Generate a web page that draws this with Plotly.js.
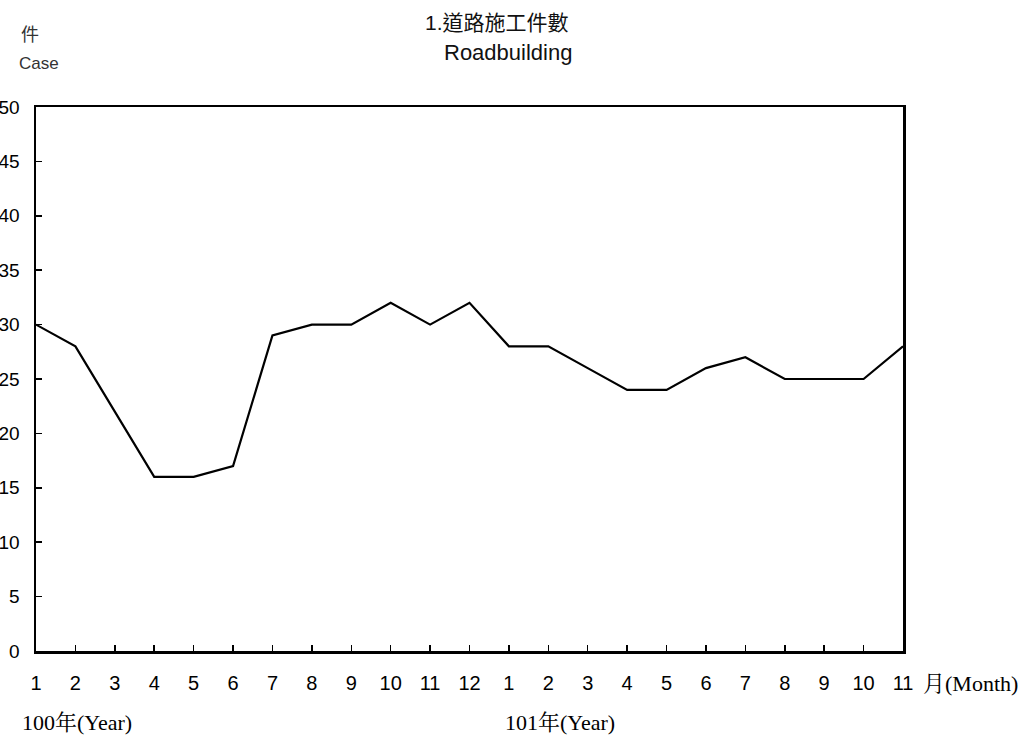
<!DOCTYPE html>
<html><head><meta charset="utf-8">
<script src="https://cdn.plot.ly/plotly-3.0.1.min.js"></script>
<style>body{margin:0;background:#fff}#c{width:1025px;height:740px}</style>
</head><body><div id="c"></div>
<script>
const months = ["1","2","3","4","5","6","7","8","9","10","11","12","1","2","3","4","5","6","7","8","9","10","11"];
const cases = [30,28,22,16,16,17,29,30,30,32,30,32,28,28,26,24,24,26,27,25,25,25,28];
const yTicks = [0,5,10,15,20,25,30,35,40,45,50];
const titleZh = "1.道路施工件數";
const titleEn = "Roadbuilding";
const idx = months.map((m,i)=>i);

const sans = "Liberation Sans, Arial, sans-serif";
const cjkSans = "Liberation Sans, Noto Sans CJK TC, sans-serif";
const serif = "Liberation Serif, Times New Roman, Noto Serif CJK TC, Noto Sans CJK TC, serif";

const L = 36, T = 107, W = 903 - 36, H = 651 - 107;
const px = (xp) => (xp - L) / W, py = (yp) => 1 - (yp - T) / H;
const ann = (text, x, y, anchor, font) => ({text, xref: "paper", yref: "paper", x: px(x), y: py(y),
  xanchor: anchor, yanchor: "middle", showarrow: false, font});

Plotly.newPlot("c", [{
  x: idx, y: cases, type: "scatter", mode: "lines",
  line: {color: "#000", width: 2.2}, hoverinfo: "skip"
}], {
  width: 1025, height: 740,
  margin: {l: L, r: 1025 - 903, t: T, b: 740 - 651},
  paper_bgcolor: "#fff", plot_bgcolor: "#fff",
  showlegend: false,
  xaxis: {range: [0, 22], tickvals: idx, ticktext: months, ticks: "inside", ticklen: 6, tickwidth: 1.5,
          tickcolor: "#000", showline: true, linecolor: "#000", linewidth: 2.5, mirror: true,
          showgrid: false, zeroline: false, automargin: false, ticklabelstandoff: 12,
          tickfont: {family: sans, size: 20, color: "#000"}},
  yaxis: {range: [0, 50], tickvals: yTicks, ticks: "inside", ticklen: 6, tickwidth: 1.5,
          tickcolor: "#000", showline: true, linecolor: "#000", linewidth: 2.5, mirror: true,
          showgrid: false, zeroline: false, automargin: false, ticklabelstandoff: 10,
          tickfont: {family: sans, size: 19, color: "#000"}},
  annotations: [
    ann(titleZh, 497, 22, "center", {family: cjkSans, size: 21, color: "#111"}),
    ann(titleEn, 508, 52, "center", {family: sans, size: 22, color: "#111"}),
    ann("件", 19, 33, "left", {family: "Noto Sans CJK TC, sans-serif", size: 18, color: "#333"}),
    ann("Case", 17, 63, "left", {family: sans, size: 17, color: "#333"}),
    ann("月(Month)", 921, 683, "left", {family: serif, size: 22, color: "#000"}),
    ann("100年(Year)", 20, 722, "left", {family: serif, size: 22, color: "#000"}),
    ann("101年(Year)", 503, 722, "left", {family: serif, size: 22, color: "#000"})
  ]
}, {displayModeBar: false, staticPlot: true});
</script></body></html>
